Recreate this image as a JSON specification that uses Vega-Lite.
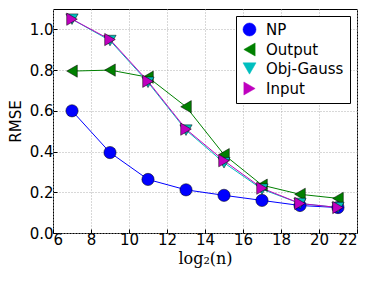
{
  "$schema": "https://vega.github.io/schema/vega-lite/v6.json",
  "width": 304,
  "height": 224,
  "autosize": {"type": "none"},
  "padding": {"left": 53, "top": 9, "right": 17, "bottom": 49},
  "background": "white",
  "config": {
    "view": {"stroke": "black", "strokeWidth": 1},
    "font": "DejaVu Sans",
    "axis": {
      "grid": true, "gridColor": "#b0b0b0", "gridDash": [1, 2], "gridWidth": 1,
      "domain": false, "tickColor": "black", "tickSize": -4,
      "labelFont": "DejaVu Sans", "labelFontSize": 15, "labelColor": "black",
      "titleColor": "black"
    }
  },
  "data": {"values": [
    {"x": 7, "y": 0.60, "s": "NP"}, {"x": 9, "y": 0.395, "s": "NP"}, {"x": 11, "y": 0.263, "s": "NP"}, {"x": 13, "y": 0.212, "s": "NP"},
    {"x": 15, "y": 0.185, "s": "NP"}, {"x": 17, "y": 0.16, "s": "NP"}, {"x": 19, "y": 0.135, "s": "NP"}, {"x": 21, "y": 0.125, "s": "NP"},
    {"x": 7, "y": 0.795, "s": "Output"}, {"x": 9, "y": 0.80, "s": "Output"}, {"x": 11, "y": 0.765, "s": "Output"}, {"x": 13, "y": 0.62, "s": "Output"},
    {"x": 15, "y": 0.385, "s": "Output"}, {"x": 17, "y": 0.235, "s": "Output"}, {"x": 19, "y": 0.19, "s": "Output"}, {"x": 21, "y": 0.17, "s": "Output"},
    {"x": 7, "y": 1.05, "s": "Obj-Gauss"}, {"x": 9, "y": 0.945, "s": "Obj-Gauss"}, {"x": 11, "y": 0.74, "s": "Obj-Gauss"}, {"x": 13, "y": 0.505, "s": "Obj-Gauss"},
    {"x": 15, "y": 0.345, "s": "Obj-Gauss"}, {"x": 17, "y": 0.215, "s": "Obj-Gauss"}, {"x": 19, "y": 0.145, "s": "Obj-Gauss"}, {"x": 21, "y": 0.125, "s": "Obj-Gauss"},
    {"x": 7, "y": 1.05, "s": "Input"}, {"x": 9, "y": 0.95, "s": "Input"}, {"x": 11, "y": 0.745, "s": "Input"}, {"x": 13, "y": 0.51, "s": "Input"},
    {"x": 15, "y": 0.355, "s": "Input"}, {"x": 17, "y": 0.22, "s": "Input"}, {"x": 19, "y": 0.145, "s": "Input"}, {"x": 21, "y": 0.125, "s": "Input"}
  ]},
  "encoding": {
    "x": {"field": "x", "type": "quantitative", "scale": {"domain": [6, 22], "nice": false},
      "axis": {"values": [6, 8, 10, 12, 14, 16, 18, 20, 22], "title": "log₂(n)", "titleFont": "DejaVu Serif", "titleFontSize": 16, "titleFontWeight": "normal", "titlePadding": 3, "labelPadding": 3}},
    "y": {"field": "y", "type": "quantitative", "scale": {"domain": [0, 1.1], "nice": false},
      "axis": {"values": [0, 0.2, 0.4, 0.6, 0.8, 1.0], "format": ".1f", "title": "RMSE", "titleFontSize": 15, "titleFontWeight": "normal", "titlePadding": 6, "labelPadding": 4}},
    "color": {"field": "s", "type": "nominal", "sort": ["NP", "Output", "Obj-Gauss", "Input"],
      "scale": {"domain": ["NP", "Output", "Obj-Gauss", "Input"], "range": ["#0000ff", "#008000", "#00bfbf", "#bf00bf"]},
      "legend": {"title": null, "orient": "top-right", "offset": 7, "fillColor": "white", "strokeColor": "black", "padding": 6,
        "labelFontSize": 15, "labelColor": "black", "labelOffset": 9, "symbolSize": 170, "symbolStrokeColor": "black", "symbolStrokeWidth": 0.5, "rowPadding": 3, "symbolOpacity": 1}}
  },
  "layer": [
    {"mark": {"type": "line", "strokeWidth": 1}, "encoding": {"detail": {"field": "s"}, "order": {"field": "x"}}},
    {"mark": {"type": "point", "filled": true, "size": 150, "stroke": "black", "strokeWidth": 0.5, "opacity": 1},
      "encoding": {"shape": {"field": "s", "type": "nominal",
        "scale": {"domain": ["NP", "Output", "Obj-Gauss", "Input"], "range": ["circle", "triangle-left", "triangle-down", "triangle-right"]},
        "legend": {"title": null}}}}
  ]
}
